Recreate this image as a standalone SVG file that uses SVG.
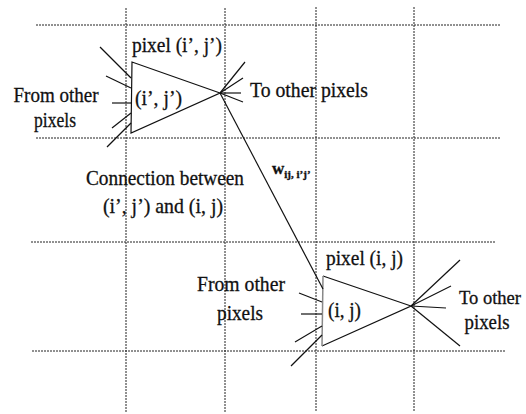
<svg xmlns="http://www.w3.org/2000/svg" width="526" height="414" viewBox="0 0 526 414">
<style>
.grid{stroke:#222;stroke-width:1;stroke-dasharray:2 1;fill:none}
.ln{stroke:#111;stroke-width:1.2;fill:none}
.tri{stroke:#111;stroke-width:1.2;fill:none}
text{font-family:'Liberation Serif','DejaVu Serif',serif;font-size:21px;fill:#111;stroke:#111;stroke-width:0.3}
.m{text-anchor:middle}
</style>
<rect width="526" height="414" fill="#fff"/>
<g id="grid">
<line class="grid" x1="36" y1="25" x2="500" y2="25"/>
<line class="grid" x1="36" y1="138" x2="500" y2="138"/>
<line class="grid" x1="31" y1="242" x2="495" y2="242"/>
<line class="grid" x1="32" y1="351" x2="505" y2="351"/>
<line class="grid" x1="126" y1="8" x2="126" y2="412"/>
<line class="grid" x1="225" y1="8" x2="225" y2="412"/>
<line class="grid" x1="316" y1="7" x2="316" y2="412"/>
<line class="grid" x1="414" y1="7" x2="414" y2="412"/>
</g>
<g id="pixel-i-prime-j-prime">
<polygon class="tri" points="132,62 131,133 220,93"/>
<text x="132" y="52" textLength="90" lengthAdjust="spacingAndGlyphs">pixel (i’, j’)</text>
<text x="135" y="105" textLength="47" lengthAdjust="spacingAndGlyphs">(i’, j’)</text>
</g>
<g id="pixel-i-j">
<polyline class="tri" points="323,276 411,306 322,346"/>
<line x1="323" y1="276" x2="322" y2="346" stroke="#888" stroke-width="1.5"/>
<text x="326" y="265" textLength="77" lengthAdjust="spacingAndGlyphs">pixel (i, j)</text>
<text x="328" y="317" textLength="33" lengthAdjust="spacingAndGlyphs">(i, j)</text>
</g>
<g id="labels">
<text class="m" x="56" y="102" textLength="85" lengthAdjust="spacingAndGlyphs">From other</text>
<text class="m" x="55" y="127" textLength="42" lengthAdjust="spacingAndGlyphs">pixels</text>
<text x="250" y="97" textLength="118" lengthAdjust="spacingAndGlyphs">To other pixels</text>
<text class="m" x="165" y="185" textLength="158" lengthAdjust="spacingAndGlyphs">Connection between</text>
<text class="m" x="163" y="213" textLength="120" lengthAdjust="spacingAndGlyphs">(i’, j’) and (i, j)</text>
<text x="272" y="174" style="font-size:17px;font-weight:bold">w<tspan dy="4" style="font-size:11px">ij, i’j’</tspan></text>
<text class="m" x="241" y="291" textLength="88" lengthAdjust="spacingAndGlyphs">From other</text>
<text class="m" x="240" y="320" textLength="46" lengthAdjust="spacingAndGlyphs">pixels</text>
<text class="m" x="490" y="304" style="font-size:19px" textLength="62" lengthAdjust="spacingAndGlyphs">To other</text>
<text class="m" x="487" y="329" textLength="45" lengthAdjust="spacingAndGlyphs">pixels</text>
</g>
<g id="connectors">
<line class="ln" x1="100" y1="47" x2="131" y2="78"/>
<line class="ln" x1="106" y1="76" x2="131" y2="88"/>
<line class="ln" x1="112" y1="103" x2="131" y2="103"/>
<line class="ln" x1="112" y1="128" x2="131" y2="113"/>
<line class="ln" x1="107" y1="147" x2="131" y2="123"/>
<line class="ln" x1="220" y1="93" x2="245" y2="62"/>
<line class="ln" x1="220" y1="93" x2="243" y2="78"/>
<line class="ln" x1="220" y1="93" x2="241" y2="93"/>
<line class="ln" x1="220" y1="93" x2="243" y2="102"/>
<line class="ln" x1="220" y1="93" x2="323" y2="289"/>
<line class="ln" x1="299" y1="293" x2="322" y2="302"/>
<line class="ln" x1="301" y1="314" x2="322" y2="314"/>
<line class="ln" x1="295" y1="342" x2="322" y2="326"/>
<line class="ln" x1="291" y1="366" x2="322" y2="335"/>
<line class="ln" x1="411" y1="306" x2="460" y2="260"/>
<line class="ln" x1="411" y1="306" x2="451" y2="286"/>
<line class="ln" x1="411" y1="306" x2="446" y2="308"/>
<line class="ln" x1="411" y1="306" x2="460" y2="346"/>
</g>
</svg>
